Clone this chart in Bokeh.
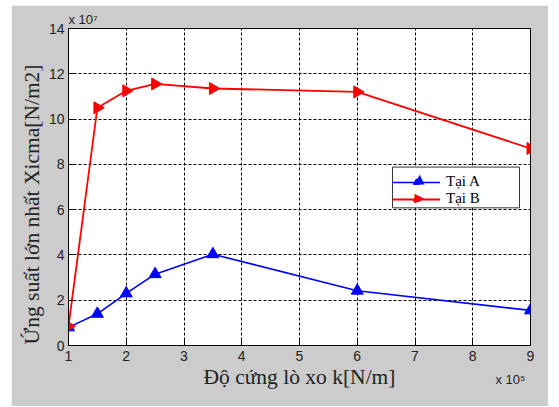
import math
from bokeh.plotting import figure
from bokeh.models import Range1d, FixedTicker, Label, Legend, LegendItem, Title, BoxAnnotation
from bokeh.embed import file_html
from bokeh.resources import INLINE

# Data (x in units of 1e5 N/m, y in units of 1e7 N/m2)
k_values = [1, 1.5, 2, 2.5, 3.5, 6, 9]
tai_a = [0.8, 1.4, 2.3, 3.15, 4.03, 2.42, 1.55]
tai_b = [0.85, 10.5, 11.25, 11.55, 11.35, 11.2, 8.7]
x_ticks = [1, 2, 3, 4, 5, 6, 7, 8, 9]
y_ticks = [0, 2, 4, 6, 8, 10, 12, 14]
series_names = ["T\u1ea1i A", "T\u1ea1i B"]
x_label = "\u0110\u1ed9 c\u1ee9ng l\u00f2 xo k[N/m]"
y_label = "\u1ee8ng su\u1ea5t l\u1edbn nh\u1ea5t Xicma[N/m2]"
y_mult = "x 10\u2077"
x_mult = "x 10\u2075"

GRAY = "#cccccc"
SERIF = "Liberation Serif"
SANS = "Liberation Sans"
TXT = "#222222"

p = figure(width=537, height=401, output_backend="svg", toolbar_location=None,
           x_range=Range1d(1, 9), y_range=Range1d(0, 14),
           min_border_left=57, min_border_right=18, min_border_top=23, min_border_bottom=56,
           border_fill_color=GRAY, background_fill_color="white")
p.margin = (5, 0, 0, 11)
p.outline_line_color = "black"
p.outline_line_width = 1

for ax in (p.xaxis[0], p.yaxis[0]):
    ax.axis_line_color = "black"
    ax.major_tick_in = 5
    ax.major_tick_out = 0
    ax.minor_tick_line_color = None
    ax.major_label_text_font = SANS
    ax.major_label_text_font_size = "14px"
    ax.major_label_text_color = TXT

p.xaxis.ticker = FixedTicker(ticks=x_ticks)
p.yaxis.ticker = FixedTicker(ticks=y_ticks)
p.xaxis.major_label_standoff = 5
p.yaxis.major_label_standoff = 4
p.xaxis.axis_label = x_label
p.xaxis.axis_label_text_font = SERIF
p.xaxis.axis_label_text_font_style = "normal"
p.xaxis.axis_label_text_font_size = "21.5px"
p.xaxis.axis_label_text_color = TXT
p.xaxis.axis_label_standoff = 1

for g in (p.xgrid[0], p.ygrid[0]):
    g.grid_line_color = "black"
    g.grid_line_dash = "3 2"
    g.grid_line_width = 1

# white legend box drawn above the grid, below everything else
p.add_layout(BoxAnnotation(left=6.61, right=8.81, bottom=6.08, top=7.88, level="underlay",
                           fill_color="white", fill_alpha=1.0,
                           line_color="#333333", line_width=1, line_alpha=1.0))

la = p.line(k_values, tai_a, line_color="#0000ff", line_width=1.6)
sa = p.scatter(k_values, tai_a, marker="triangle", size=12, fill_color="#0000ff", line_color="#0000ff")
lb = p.line(k_values, tai_b, line_color="#ff0000", line_width=1.8)
sb = p.scatter(k_values, tai_b, marker="triangle", size=12, angle=-math.pi / 2,
               fill_color="#ff0000", line_color="#ff0000")

legend = Legend(items=[LegendItem(label=series_names[0], renderers=[la, sa]),
                       LegendItem(label=series_names[1], renderers=[lb, sb])],
                location=(324, 138), orientation="vertical",
                label_text_font=SERIF, label_text_font_size="15px", label_text_color="black",
                glyph_width=48, glyph_height=16, label_height=16, label_width=66,
                label_standoff=6, spacing=0, padding=3, margin=0,
                border_line_color=None,
                background_fill_color="white", background_fill_alpha=0.0)
p.add_layout(legend, "center")

# larger legend markers (triangle up for A, triangle right for B)
p.add_layout(Label(x=7.08, y=7.37, text="\u25b2",
                   text_align="center", text_baseline="middle",
                   text_font="DejaVu Sans", text_font_size="13px", text_color="#0000ff"))
p.add_layout(Label(x=7.08, y=6.55, text="\u25b6",
                   text_align="center", text_baseline="middle",
                   text_font="DejaVu Sans", text_font_size="13px", text_color="#ff0000"))

# Y axis label as a title on the left
p.add_layout(Title(text=y_label, align="left", offset=1, standoff=4,
                   text_font=SERIF, text_font_size="21.5px", text_font_style="normal",
                   text_color=TXT), "left")

# Exponent multipliers
p.add_layout(Label(x=1, y=14, x_offset=0, y_offset=9, text=y_mult,
                   text_align="left", text_baseline="middle",
                   text_font=SANS, text_font_size="13px", text_color=TXT), "above")
p.add_layout(Label(x=9, y=0, x_offset=-35, y_offset=-34, text=x_mult,
                   text_align="left", text_baseline="middle",
                   text_font=SANS, text_font_size="13px", text_color=TXT), "below")

open("out.html", "w").write(file_html(p, INLINE))
